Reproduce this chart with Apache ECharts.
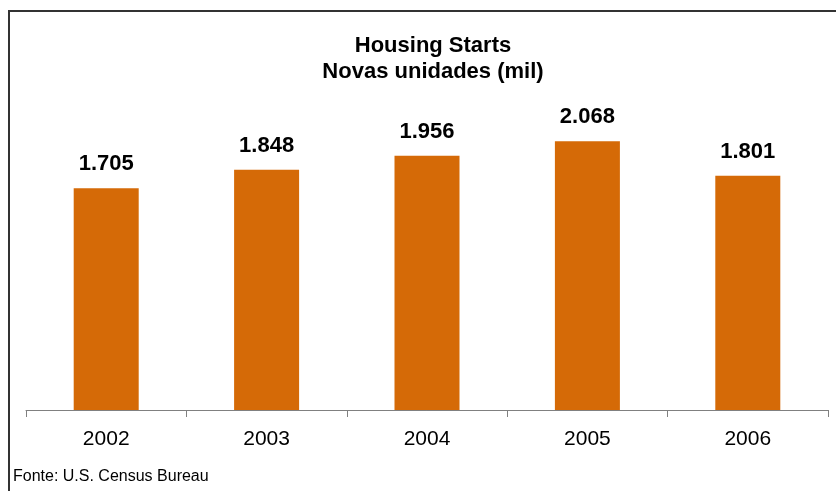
<!DOCTYPE html>
<html>
<head>
<meta charset="utf-8">
<script src="https://cdn.jsdelivr.net/npm/echarts@6/dist/echarts.min.js"></script>
<style>html,body{margin:0;padding:0;background:#fff;}#c{width:836px;height:491px;}</style>
</head>
<body>
<div id="c"></div>
<script>
const years = ['2002', '2003', '2004', '2005', '2006'];
const starts = [1705, 1848, 1956, 2068, 1801];
const titleLines = ['Housing Starts', 'Novas unidades (mil)'];
const sourceNote = 'Fonte: U.S. Census Bureau';

const chart = echarts.init(document.getElementById('c'), null, {renderer: 'canvas'});
chart.setOption({
  backgroundColor: '#ffffff',
  animation: false,
  title: {
    text: titleLines.join('\n'),
    left: 428,
    top: 28,
    textAlign: 'center',
    textStyle: {fontFamily: 'Liberation Sans, Arial, sans-serif', fontSize: 22, fontWeight: 'bold', color: '#000', lineHeight: 26}
  },
  grid: {left: 26, right: 8, top: 85, bottom: 81, containLabel: false},
  xAxis: {
    type: 'category',
    data: years,
    boundaryGap: true,
    axisLine: {lineStyle: {color: '#808080', width: 1}},
    axisTick: {show: true, length: 7, alignWithLabel: false, lineStyle: {color: '#808080'}},
    axisLabel: {fontFamily: 'Liberation Sans, Arial, sans-serif', fontSize: 21, color: '#000', margin: 19}
  },
  yAxis: {
    type: 'value', min: 0, max: 2500, show: false,
    splitLine: {show: false}
  },
  series: [{
    type: 'bar',
    data: starts,
    barWidth: 65,
    itemStyle: {color: '#D56A07'},
    label: {
      show: true, position: 'top', distance: 13,
      fontFamily: 'Liberation Sans, Arial, sans-serif', fontSize: 22, fontWeight: 'bold', color: '#000',
      formatter: p => (p.value / 1000).toFixed(3)
    }
  }],
  graphic: [
    {type: 'polyline', shape: {points: [[9, 491], [9, 11], [836, 11]]}, style: {stroke: '#333', lineWidth: 2, fill: null}},
    {type: 'text', left: 13, top: 469, style: {text: sourceNote, fontFamily: 'Liberation Sans, Arial, sans-serif', fontSize: 16, fill: '#000'}}
  ]
});
</script>
</body>
</html>
